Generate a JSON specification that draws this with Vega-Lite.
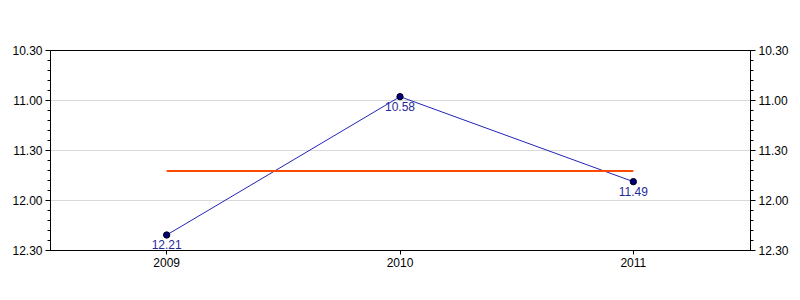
{
  "$schema": "https://vega.github.io/schema/vega-lite/v6.json",
  "width": 700,
  "height": 200,
  "autosize": "none",
  "padding": {"left": 50, "top": 50, "right": 50, "bottom": 50},
  "background": "white",
  "config": {
    "view": {"stroke": "black", "strokeWidth": 1},
    "font": "Liberation Sans",
    "axis": {"labelFont": "Liberation Sans", "labelFontSize": 12, "labelColor": "black", "domainColor": "black", "tickColor": "black", "title": null}
  },
  "data": {
    "values": [
      {"year": "2009", "sec": 741, "label": "12.21"},
      {"year": "2010", "sec": 658, "label": "10.58"},
      {"year": "2011", "sec": 709, "label": "11.49"}
    ]
  },
  "encoding": {
    "x": {
      "field": "year", "type": "ordinal",
      "scale": {"type": "band", "paddingInner": 0, "paddingOuter": 0},
      "axis": {"labelAngle": 0, "tickSize": 4, "bandPosition": 0.5, "labelPadding": 3, "grid": false, "domainColor": "black"}
    },
    "y": {
      "field": "sec", "type": "quantitative",
      "scale": {"domain": [630, 750], "reverse": true, "nice": false, "zero": false}
    }
  },
  "layer": [
    {
      "mark": {"type": "line", "color": "#2424b8", "strokeWidth": 1},
      "encoding": {
        "y": {
          "field": "sec", "type": "quantitative",
          "axis": {
            "orient": "left",
            "values": [630,636,642,648,654,660,666,672,678,684,690,696,702,708,714,720,726,732,738,744,750],
            "labelExpr": "datum.value % 30 === 0 ? (floor(datum.value/60) + '.' + (datum.value % 60 < 10 ? '0' : '') + (datum.value % 60)) : ''",
            "tickSize": {"condition": {"test": "datum.value % 30 === 0", "value": 5}, "value": 3},
            "grid": true,
            "gridColor": "#d9d9d9",
            "gridOpacity": {"condition": {"test": "datum.value % 30 === 0 && datum.value > 630 && datum.value < 750", "value": 1}, "value": 0},
            "labelPadding": 3,
            "domainColor": "black"
          }
        }
      }
    },
    {
      "transform": [{"joinaggregate": [{"op": "mean", "field": "sec", "as": "avg"}]}],
      "mark": {"type": "line", "color": "#ff4a00", "strokeWidth": 2},
      "encoding": {
        "y": {
          "field": "avg", "type": "quantitative",
          "axis": {
            "orient": "right",
            "values": [630,636,642,648,654,660,666,672,678,684,690,696,702,708,714,720,726,732,738,744,750],
            "labelExpr": "datum.value % 30 === 0 ? (floor(datum.value/60) + '.' + (datum.value % 60 < 10 ? '0' : '') + (datum.value % 60)) : ''",
            "tickSize": {"condition": {"test": "datum.value % 30 === 0", "value": 5}, "value": 3},
            "grid": false,
            "labelPadding": 3,
            "domainColor": "black"
          }
        }
      }
    },
    {
      "mark": {"type": "point", "filled": true, "fill": "#000080", "stroke": "black", "strokeWidth": 1, "size": 40, "opacity": 1},
      "encoding": {"y": {"field": "sec", "type": "quantitative", "axis": null}}
    },
    {
      "mark": {"type": "text", "color": "#1f2a96", "fontSize": 12, "dy": 10, "baseline": "middle", "align": "center"},
      "encoding": {
        "y": {"field": "sec", "type": "quantitative", "axis": null},
        "text": {"field": "label"}
      }
    }
  ],
  "resolve": {"axis": {"y": "independent"}}
}
